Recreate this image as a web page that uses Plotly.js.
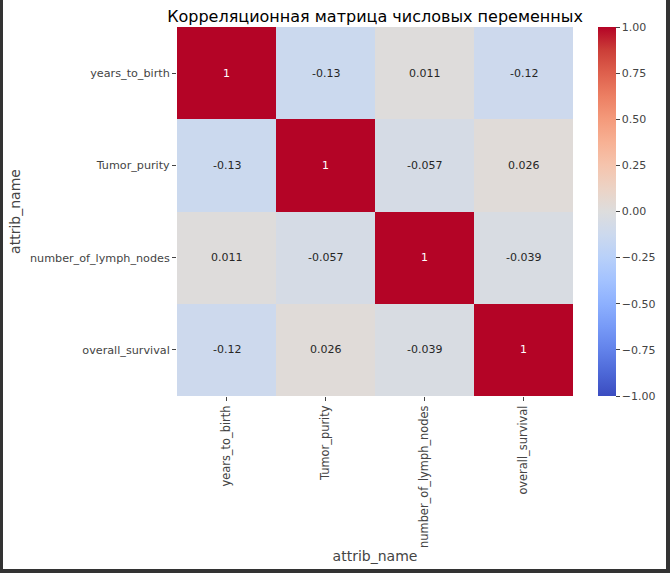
<!DOCTYPE html>
<html>
<head>
<meta charset="utf-8" />
<script src="https://cdn.plot.ly/plotly-3.0.1.min.js"></script>
<style>
  html, body { margin: 0; padding: 0; background: #333333; }
  #karte { position: absolute; left: 3px; top: 0; width: 663px; height: 569px; background: white; }
</style>
</head>
<body>
<div id="karte"></div>
<script>
  // Daten der Korrelationsmatrix
  const merkmale = ["years_to_birth", "Tumor_purity", "number_of_lymph_nodes", "overall_survival"];
  const zeile1 = [1, -0.13, 0.011, -0.12];
  const zeile2 = [-0.13, 1, -0.057, 0.026];
  const zeile3 = [0.011, -0.057, 1, -0.039];
  const zeile4 = [-0.12, 0.026, -0.039, 1];
  const matrix = [zeile1, zeile2, zeile3, zeile4];
  const farbTicks = [-1, -0.75, -0.5, -0.25, 0, 0.25, 0.5, 0.75, 1];

  // coolwarm (Moreland)
  const coolwarm = [
    [0.0, "rgb(59,76,192)"], [0.0625, "rgb(77,104,215)"], [0.125, "rgb(98,130,234)"],
    [0.1875, "rgb(119,154,247)"], [0.25, "rgb(141,176,254)"], [0.3125, "rgb(163,194,255)"],
    [0.375, "rgb(184,208,249)"], [0.4375, "rgb(204,217,238)"], [0.5, "rgb(221,221,221)"],
    [0.5625, "rgb(236,211,197)"], [0.625, "rgb(245,196,173)"], [0.6875, "rgb(247,177,148)"],
    [0.75, "rgb(244,154,123)"], [0.8125, "rgb(236,127,99)"], [0.875, "rgb(222,96,77)"],
    [0.9375, "rgb(203,62,56)"], [1.0, "rgb(180,4,38)"]
  ];

  const schrift = "DejaVu Sans, sans-serif";

  const beschriftungen = [];
  matrix.forEach((zeile, i) => {
    zeile.forEach((wert, j) => {
      beschriftungen.push({
        x: merkmale[j],
        y: merkmale[i],
        xref: "x",
        yref: "y",
        text: Number(wert.toPrecision(2)).toString(),
        showarrow: false,
        font: { family: schrift, size: 11, color: Math.abs(wert) > 0.5 ? "white" : "#262626" },
      });
    });
  });

  const spur = {
    type: "heatmap",
    x: merkmale,
    y: merkmale,
    z: matrix,
    zmin: -1,
    zmax: 1,
    colorscale: coolwarm,
    hoverinfo: "none",
    colorbar: {
      x: 1.063,
      xanchor: "left",
      xpad: 0,
      y: 0,
      yanchor: "bottom",
      ypad: 0,
      len: 1,
      lenmode: "fraction",
      thickness: 18,
      outlinewidth: 0,
      tickvals: farbTicks,
      tickformat: ".2f",
      tickprefix: "\u2009",
      ticks: "outside",
      ticklen: 4,
      tickcolor: "#444",
      tickfont: { family: schrift, size: 11, color: "#444" },
    },
  };

  const layout = {
    title: {
      text: "Корреляционная матрица числовых переменных",
      font: { family: schrift, size: 16, color: "black" },
      xref: "paper",
      x: 0.5,
      xanchor: "center",
      y: 0.972,
      yanchor: "middle",
    },
    xaxis: {
      type: "category",
      tickangle: -90,
      ticks: "outside",
      ticklen: 4,
      tickcolor: "#444",
      tickfont: { family: schrift, size: 11.4, color: "#444" },
      showgrid: false,
      zeroline: false,
      title: { text: "attrib_name", font: { family: schrift, size: 14, color: "#444" }, standoff: 3 },
    },
    yaxis: {
      type: "category",
      autorange: "reversed",
      ticks: "outside",
      ticklen: 4,
      tickcolor: "#444",
      tickfont: { family: schrift, size: 11.2, color: "#444" },
      showgrid: false,
      zeroline: false,
      title: { text: "attrib_name", font: { family: schrift, size: 14, color: "#444" }, standoff: 6 },
    },
    annotations: beschriftungen,
    margin: { l: 174, r: 93, t: 27, b: 173, autoexpand: false },
    paper_bgcolor: "white",
    plot_bgcolor: "white",
    width: 663,
    height: 569,
  };

  Plotly.newPlot("karte", [spur], layout, { displayModeBar: false, staticPlot: true });
</script>
</body>
</html>
